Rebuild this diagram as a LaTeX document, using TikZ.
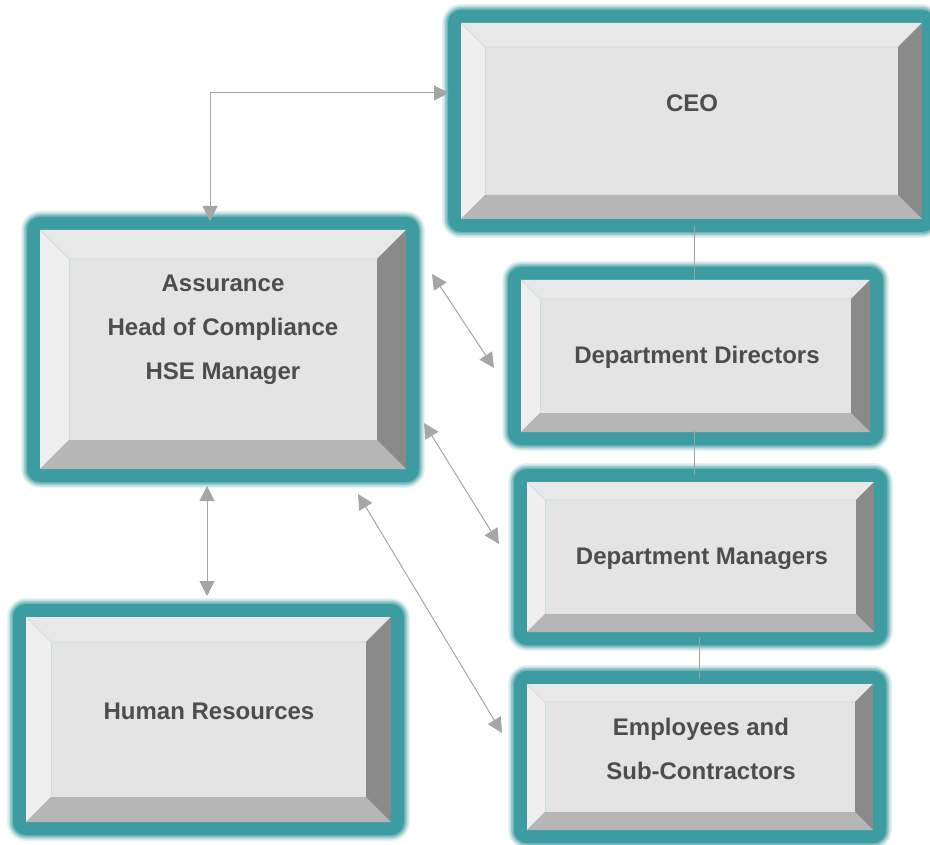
\documentclass[tikz,border=0pt]{standalone}
\usepackage{fontspec}
\setmainfont{Liberation Sans}
\usetikzlibrary{arrows.meta}
\definecolor{tealc}{RGB}{61,156,162}
\definecolor{ftop}{RGB}{232,232,232}
\definecolor{fleft}{RGB}{239,239,239}
\definecolor{fin}{RGB}{228,228,228}
\definecolor{fbot}{RGB}{182,182,182}
\definecolor{fright}{RGB}{138,138,138}
\definecolor{edgec}{RGB}{200,222,226}
\definecolor{txtc}{RGB}{77,77,77}
\definecolor{arrc}{RGB}{166,166,166}
\definecolor{connc}{RGB}{160,160,160}
\newcommand\bevelbox[6]{%
  \foreach \m/\o in {19/0.12,17.5/0.2,16/0.3,14.5/0.5}{%
    \fill[tealc,opacity=\o,rounded corners=\m pt] (#2-\m,#3-\m) rectangle (#4+\m,#5+\m);}
  \fill[tealc,rounded corners=13pt] (#2-13,#3-13) rectangle (#4+13,#5+13);
  \fill[fin] (#2+#6,#3+#6) rectangle (#4-#6,#5-#6);
  \fill[ftop] (#2,#3) -- (#4,#3) -- (#4-#6,#3+#6) -- (#2+#6,#3+#6) -- cycle;
  \fill[fleft] (#2,#3) -- (#2+#6,#3+#6) -- (#2+#6,#5-#6) -- (#2,#5) -- cycle;
  \fill[fright] (#4,#3) -- (#4,#5) -- (#4-#6,#5-#6) -- (#4-#6,#3+#6) -- cycle;
  \fill[fbot] (#2,#5) -- (#4,#5) -- (#4-#6,#5-#6) -- (#2+#6,#5-#6) -- cycle;
  \draw[edgec,line width=0.6pt] (#2,#3) -- (#2+#6,#3+#6) -- (#4-#6,#3+#6);
  \draw[edgec,line width=0.6pt] (#2+#6,#3+#6) -- (#2+#6,#5-#6);
  \node[boxnode,minimum width=#4pt-#2pt,minimum height=#5pt-#3pt] (#1) at ({(#2+#4)/2},{(#3+#5)/2}) {};
}
\tikzset{
  boxnode/.style={inner sep=0pt,outer sep=0pt,draw=none,rectangle},
  txt/.style={text=txtc,font=\fontsize{24}{44}\selectfont\bfseries,align=center,inner sep=0pt},
  arr/.style={arrc,line width=1pt,{Triangle[length=15pt,width=15pt]}-{Triangle[length=15pt,width=15pt]}},
  conn/.style={connc,line width=1pt}
}
\begin{document}
\begin{tikzpicture}[x=1pt,y=-1pt]
\fill[white] (0,0) rectangle (930,845);
\useasboundingbox (0,0) rectangle (930,845);
\bevelbox{ceo}{461}{23}{922}{219}{24}
\bevelbox{asr}{40}{230}{406}{469}{29}
\bevelbox{dd}{521}{280}{870}{432}{19}
\bevelbox{dm}{527}{482}{874}{632}{18}
\bevelbox{emp}{527}{684}{873}{830}{18}
\bevelbox{hr}{26}{617}{391}{822}{25}
% text
\node[txt,anchor=base] (ceot) at (692,111.6) {CEO};
\node[txt] (asrt) at (223,329.5) {Assurance\\Head of Compliance\\HSE Manager};
\node[txt,anchor=base] (ddt) at (697,363.6) {Department Directors};
\node[txt,anchor=base] (dmt) at (702,564.6) {Department Managers};
\node[txt] (empt) at (701,749) {Employees and\\Sub-Contractors};
\node[txt,anchor=base] (hrt) at (209,719.6) {Human Resources};
% connector ends
\coordinate (l1a) at (694,226);
\coordinate (l1b) at (694,280);
\coordinate (l2a) at (694,430);
\coordinate (l2b) at (694,475);
\coordinate (l3a) at (699,637);
\coordinate (l3b) at (699,679);
\draw[conn] (l1a) -- (l1b);
\draw[conn] (l2a) -- (l2b);
\draw[conn] (l3a) -- (l3b);
% arrows
\coordinate (a1) at (210,221);
\coordinate (a2) at (449,93);
\coordinate (b1) at (432,274);
\coordinate (b2) at (494,368);
\coordinate (c1) at (424,423);
\coordinate (c2) at (499,544);
\coordinate (d1) at (358,494);
\coordinate (d2) at (502,733);
\coordinate (e1) at (207,486);
\coordinate (e2) at (207,596);
\draw[arr] (a1) |- (a2);
\draw[arr] (b1) -- (b2);
\draw[arr] (c1) -- (c2);
\draw[arr] (d1) -- (d2);
\draw[arr] (e1) -- (e2);
\end{tikzpicture}
\end{document}
